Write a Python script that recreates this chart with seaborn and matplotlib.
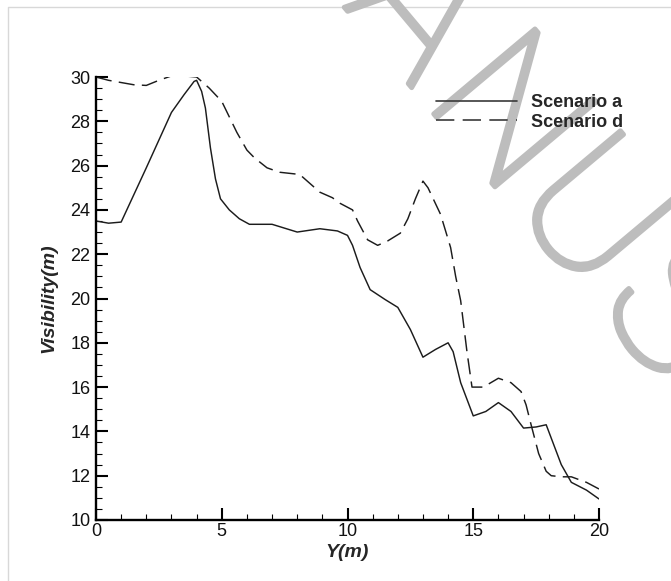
import matplotlib
matplotlib.use("Agg")
import matplotlib.pyplot as plt
import matplotlib.patheffects as pe
import numpy as np
import pandas as pd
import seaborn as sns
from matplotlib.ticker import MultipleLocator
from matplotlib.lines import Line2D

sns.set_theme(style="ticks")
plt.rcParams["font.family"] = ["Liberation Sans", "DejaVu Sans"]

# ---- data ----
scenario_labels = ["Scenario a", "Scenario d"]

x_a = [0.0, 0.5, 1.0, 2.0, 3.0, 3.5, 3.9, 4.0, 4.2, 4.35, 4.55, 4.75, 4.95, 5.3, 5.7, 6.1,
       7.0, 8.0, 8.9, 9.6, 10.0, 10.2, 10.5, 10.9, 11.5, 12.0, 12.5, 13.0, 13.5, 14.0, 14.2,
       14.5, 15.0, 15.5, 16.0, 16.5, 17.0, 17.5, 17.9, 18.2, 18.5, 18.9, 19.5, 20.0]
y_a = [23.5, 23.4, 23.45, 25.9, 28.4, 29.2, 29.8, 29.85, 29.35, 28.6, 26.8, 25.4, 24.5, 24.0, 23.6, 23.35,
       23.35, 23.0, 23.15, 23.05, 22.85, 22.4, 21.4, 20.4, 19.95, 19.6, 18.6, 17.35, 17.7, 18.0, 17.6,
       16.2, 14.7, 14.9, 15.3, 14.9, 14.15, 14.2, 14.3, 13.4, 12.5, 11.7, 11.35, 10.95]

x_d = [0.0, 0.5, 1.0, 1.5, 2.0, 2.5, 3.0, 3.5, 4.0, 4.5, 5.0, 5.3, 5.6, 6.0, 6.3, 6.8,
       7.3, 8.1, 8.5, 8.9, 9.4, 9.7, 10.2, 10.4, 10.8, 11.2, 11.6, 12.1, 12.4, 12.7, 13.0,
       13.2, 13.7, 14.1, 14.3, 14.5, 14.75, 14.95, 15.4, 16.0, 16.5, 16.9, 17.1, 17.3, 17.6,
       17.9, 18.1, 18.5, 18.9, 19.5, 20.0]
y_d = [30.0, 29.85, 29.75, 29.65, 29.62, 29.85, 30.05, 30.05, 30.0, 29.5, 28.9, 28.2, 27.5, 26.7, 26.35, 25.9,
       25.7, 25.6, 25.2, 24.8, 24.55, 24.3, 24.0, 23.5, 22.65, 22.4, 22.6, 22.95, 23.6, 24.5, 25.3,
       25.0, 23.8, 22.3, 21.0, 19.9, 17.6, 16.0, 16.0, 16.4, 16.2, 15.8, 15.2, 14.3, 13.0,
       12.2, 12.0, 11.95, 11.95, 11.7, 11.4]

x_ticks = [0, 5, 10, 15, 20]
y_ticks = [10, 12, 14, 16, 18, 20, 22, 24, 26, 28, 30]

df = pd.concat([
    pd.DataFrame({"Y": x_a, "Visibility": y_a, "Scenario": scenario_labels[0]}),
    pd.DataFrame({"Y": x_d, "Visibility": y_d, "Scenario": scenario_labels[1]}),
], ignore_index=True)

W, H = 671, 581
fig = plt.figure(figsize=(W / 100, H / 100), dpi=100)
fig.patch.set_facecolor("white")

# light frame lines of the page
fig.add_artist(Line2D([8 / W, 8 / W, 1], [0, 1 - 7 / H, 1 - 7 / H],
                      transform=fig.transFigure, color="#d8d8d8", lw=1.0, zorder=-2))

# watermark "ACCEPTED MANUSCRIPT", letters set one by one along a diagonal baseline
wm_text = "ACCEPTED MANUSCRIPT"
wm_adv = {"A": .667, "C": .722, "E": .667, "P": .667, "T": .611, "D": .722, " ": .278,
          "M": .833, "N": .722, "U": .722, "S": .667, "R": .722, "I": .278}
wm_em = 186.0                      # px
wm_rot = -50.0
bx, by = np.cos(np.radians(-wm_rot)), np.sin(np.radians(-wm_rot))   # screen, y down
n_idx = wm_text.index("N")
origin_N = (422.0, 100.0)
cum = np.concatenate([[0.0], np.cumsum([wm_adv[c] for c in wm_text])]) * wm_em
cum = cum - cum[n_idx]
for ch, s in zip(wm_text, cum[:-1]):
    if ch == " ":
        continue
    px, py = origin_N[0] + s * bx, origin_N[1] + s * by
    fig.text(px / W, 1 - py / H, ch, ha="left", va="baseline", rotation=wm_rot,
             rotation_mode="anchor", fontsize=wm_em * 0.72, family=["Roboto", "DejaVu Sans"],
             fontweight="light", color="#bdbdbd", zorder=-1, transform=fig.transFigure,
             path_effects=[pe.withStroke(linewidth=3.5, foreground="#bdbdbd")])

ax = fig.add_axes([96 / W, 1 - 520 / H, (599 - 96) / W, (520 - 77) / H])
ax.patch.set_alpha(0)

sns.lineplot(data=df, x="Y", y="Visibility", hue="Scenario", style="Scenario",
             palette=["#1c1c1c", "#1c1c1c"], dashes=["", (11, 5)], linewidth=1.05,
             sort=False, estimator=None, ax=ax, legend=True)

leg0 = ax.get_legend()
handles = leg0.legend_handles
labels = [t.get_text() for t in leg0.texts]
leg0.remove()
for h in handles:
    h.set_linewidth(1.2)
    h.set_color("#3a3a3a")
ax.legend(handles, labels, loc="upper left", bbox_to_anchor=(436 / W, 1 - 94 / H),
          bbox_transform=fig.transFigure, frameon=False, borderpad=0, borderaxespad=0,
          handlelength=4.5, handletextpad=0.75, labelspacing=0.15,
          prop=dict(family="Liberation Sans", weight="bold", size=13))

ax.set_xlim(0, 20)
ax.set_ylim(10, 30)
ax.set_xticks(x_ticks)
ax.set_yticks(y_ticks)
ax.xaxis.set_minor_locator(MultipleLocator(1))
ax.yaxis.set_minor_locator(MultipleLocator(0.5))
ax.tick_params(which="major", direction="in", length=8.4, width=1.5, color="black",
               labelsize=13, labelcolor="#111111")
ax.tick_params(which="minor", direction="in", length=4.3, width=0.8, color="black")
ax.tick_params(axis="x", which="major", pad=2)
ax.tick_params(axis="y", which="major", pad=4)
sns.despine(ax=ax)
for s in ["left", "bottom"]:
    ax.spines[s].set_linewidth(1.7)
    ax.spines[s].set_color("black")

ax.set_xlabel("Y(m)", fontsize=14, fontweight="bold", fontstyle="italic", labelpad=3)
ax.set_ylabel("Visibility(m)", fontsize=14, fontweight="bold", fontstyle="italic", labelpad=9)

fig.savefig("out.png", dpi=100, facecolor="white")
